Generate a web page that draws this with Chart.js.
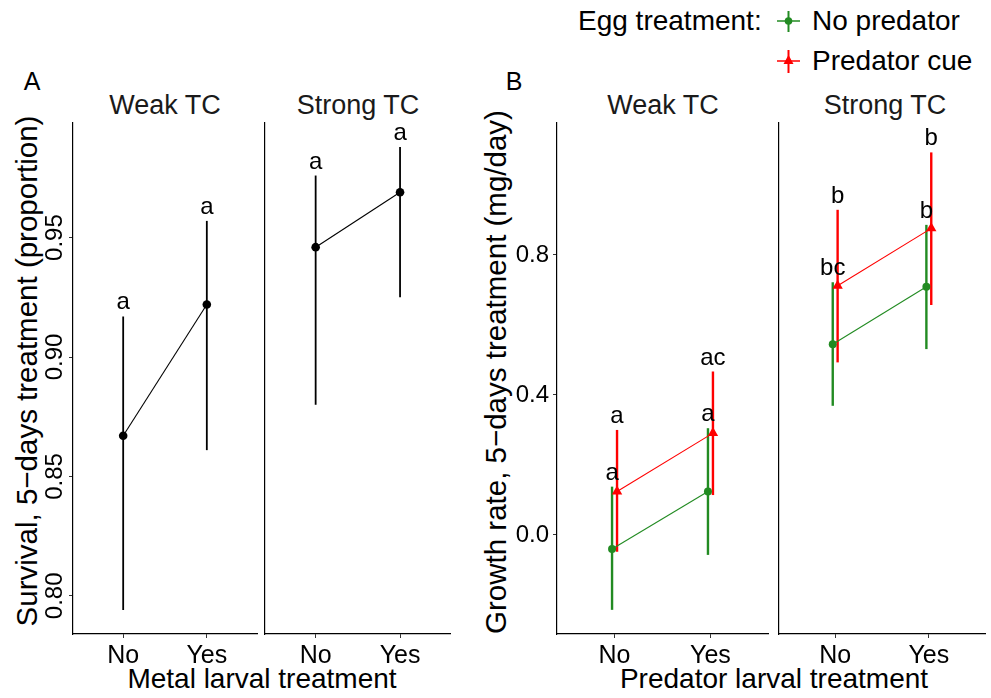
<!DOCTYPE html>
<html>
<head>
<meta charset="utf-8">
<script src="https://cdn.jsdelivr.net/npm/chart.js@4.4.0/dist/chart.umd.min.js"></script>
<style>
  body { margin: 0; background: #fff; width: 991px; height: 698px; position: relative; overflow: hidden;
         font-family: "Liberation Sans", Arial, sans-serif; color: #000; }
  .panel { position: absolute; }
  .txt { position: absolute; white-space: nowrap; line-height: 1; transform: translate(-50%, -50%); }
  .lt { position: absolute; white-space: nowrap; line-height: 1; transform: translateY(-50%); font-size: 28px; }
  .rot { position: absolute; white-space: nowrap; line-height: 1; transform: translate(-50%, -50%) rotate(-90deg); font-size: 29.5px; }
  .strip { color: #1a1a1a; font-size: 27px; }
</style>
</head>
<body>
<!-- panel letters -->
<div class="txt" style="left:32px;top:81px;font-size:25px">A</div>
<div class="txt" style="left:514px;top:81px;font-size:25px">B</div>

<!-- facet titles -->
<div class="txt strip" id="stripAWeak" style="left:165px;top:105px"></div>
<div class="txt strip" id="stripAStrong" style="left:358px;top:105px"></div>
<div class="txt strip" id="stripBWeak" style="left:663px;top:105px"></div>
<div class="txt strip" id="stripBStrong" style="left:885px;top:105px"></div>

<!-- axis titles -->
<div class="rot" style="left:27px;top:371px">Survival, 5−days treatment (proportion)</div>
<div class="rot" style="left:496px;top:372px">Growth rate, 5−days treatment (mg/day)</div>
<div class="txt" style="left:262px;top:679px;font-size:28px">Metal larval treatment</div>
<div class="txt" style="left:774px;top:679px;font-size:28px">Predator larval treatment</div>

<!-- legend -->
<div class="lt" style="left:578px;top:21px">Egg treatment:</div>
<svg style="position:absolute;left:776px;top:8px" width="26" height="70">
  <line x1="1" y1="13" x2="24" y2="13" stroke="#228B22" stroke-width="1.5"/>
  <line x1="12.5" y1="3" x2="12.5" y2="24" stroke="#228B22" stroke-width="2"/>
  <circle cx="12.5" cy="13" r="3.8" fill="#228B22"/>
  <line x1="1" y1="53" x2="24" y2="53" stroke="#FF0000" stroke-width="1.5"/>
  <line x1="12.5" y1="42" x2="12.5" y2="65" stroke="#FF0000" stroke-width="2"/>
  <polygon points="12.5,47 17.5,56 7.5,56" fill="#FF0000"/>
</svg>
<div class="lt" id="legNoPred" style="left:812px;top:21px"></div>
<div class="lt" id="legCue" style="left:812px;top:61px"></div>

<div class="panel" style="left:0px;top:103px"><canvas id="aWeak" width="262" height="567"></canvas></div>
<div class="panel" style="left:255px;top:103px"><canvas id="aStrong" width="200" height="567"></canvas></div>
<div class="panel" style="left:480px;top:103px"><canvas id="bWeak" width="294" height="567"></canvas></div>
<div class="panel" style="left:769px;top:103px"><canvas id="bStrong" width="222" height="567"></canvas></div>

<script>
// categories and facets
const xLabels = ["No", "Yes"];
const facetNames = ["Weak TC", "Strong TC"];
const eggLabels = ["No predator", "Predator cue"];

// A: survival (proportion), mean with CI and letters
const survWeak = [0.867, 0.922];
const survWeakLo = [0.794, 0.861];
const survWeakHi = [0.917, 0.957];
const survWeakLetters = ["a", "a"];
const survStrong = [0.946, 0.969];
const survStrongLo = [0.880, 0.925];
const survStrongHi = [0.976, 0.988];
const survStrongLetters = ["a", "a"];
const survTicks = [0.80, 0.85, 0.90, 0.95];

// B: growth rate (mg/day)
const growWeakNoPred = [-0.040, 0.124];
const growWeakNoPredLo = [-0.214, -0.057];
const growWeakNoPredHi = [0.138, 0.305];
const growWeakNoPredLetters = ["a", "a"];
const growWeakCue = [0.124, 0.291];
const growWeakCueLo = [-0.048, 0.114];
const growWeakCueHi = [0.300, 0.467];
const growWeakCueLetters = ["a", "ac"];
const growStrongNoPred = [0.545, 0.709];
const growStrongNoPredLo = [0.369, 0.531];
const growStrongNoPredHi = [0.722, 0.886];
const growStrongNoPredLetters = ["bc", "b"];
const growStrongCue = [0.712, 0.876];
const growStrongCueLo = [0.493, 0.657];
const growStrongCueHi = [0.929, 1.093];
const growStrongCueLetters = ["b", "b"];
const growTicks = [0.0, 0.4, 0.8];

// texts
document.getElementById("stripAWeak").textContent = facetNames[0];
document.getElementById("stripAStrong").textContent = facetNames[1];
document.getElementById("stripBWeak").textContent = facetNames[0];
document.getElementById("stripBStrong").textContent = facetNames[1];
document.getElementById("legNoPred").textContent = eggLabels[0];
document.getElementById("legCue").textContent = eggLabels[1];

Chart.defaults.font.family = '"Liberation Sans", Arial, sans-serif';
Chart.defaults.color = "#000";

const GREEN = "#228B22";
const RED = "#FF0000";
const DODGE = 0.026;

// error bars under the points, letters above the bars
const errorBars = {
  id: "errorBars",
  beforeDatasetsDraw(chart) {
    const ctx = chart.ctx;
    const xs = chart.scales.x;
    const ys = chart.scales.y;
    chart.data.datasets.forEach((ds) => {
      ds.data.forEach((p, i) => {
        const x = xs.getPixelForValue(p.x);
        ctx.save();
        ctx.strokeStyle = ds.borderColor;
        ctx.lineWidth = ds.errWidth;
        ctx.beginPath();
        ctx.moveTo(x, ys.getPixelForValue(ds.lo[i]));
        ctx.lineTo(x, ys.getPixelForValue(ds.hi[i]));
        ctx.stroke();
        ctx.restore();
      });
    });
  },
  afterDatasetsDraw(chart) {
    const ctx = chart.ctx;
    const xs = chart.scales.x;
    const ys = chart.scales.y;
    ctx.save();
    ctx.font = '24px "Liberation Sans", Arial, sans-serif';
    ctx.fillStyle = "#000";
    ctx.textAlign = "center";
    ctx.textBaseline = "alphabetic";
    chart.data.datasets.forEach((ds) => {
      ds.data.forEach((p, i) => {
        ctx.fillText(ds.letters[i], xs.getPixelForValue(p.x), ys.getPixelForValue(ds.hi[i]) - 7);
      });
    });
    ctx.restore();
  },
};

function makeSeries(mean, lo, hi, letters, color, shape, size, dodge, errWidth) {
  return {
    data: mean.map((v, i) => ({ x: i + 1 + dodge, y: v })),
    lo: lo,
    hi: hi,
    letters: letters,
    borderColor: color,
    backgroundColor: color,
    borderWidth: 1.1,
    pointStyle: shape,
    pointRadius: size,
    pointHoverRadius: size,
    pointBorderWidth: 0,
    errWidth: errWidth,
  };
}

function makePanel(id, datasets, yRange, yTicks, yDigits, yMode, yWidth, padRight) {
  const yAxis = {
    type: "linear",
    min: yRange[0],
    max: yRange[1],
    border: { display: true, color: "#000", width: 1.2 },
    afterFit: (s) => {
      s.width = yWidth;
      s.paddingTop = 0;
      s.paddingBottom = 0;
    },
  };
  if (yMode === "none") {
    yAxis.ticks = { display: false };
    yAxis.grid = { display: false };
  } else {
    yAxis.afterBuildTicks = (s) => {
      s.ticks = yTicks.map((v) => ({ value: v }));
    };
    yAxis.grid = { display: true, drawOnChartArea: false, tickLength: 4, color: "#333" };
    yAxis.ticks = {
      callback: (v) => Number(v).toFixed(yDigits),
      font: { size: 24 },
      color: "#000",
      autoSkip: false,
    };
    if (yMode === "rotated") {
      yAxis.ticks.minRotation = 90;
      yAxis.ticks.maxRotation = 90;
      yAxis.ticks.crossAlign = "center";
      yAxis.ticks.padding = -10;
    } else {
      yAxis.ticks.padding = 4;
    }
  }

  return new Chart(document.getElementById(id), {
    type: "line",
    data: { datasets: datasets },
    options: {
      responsive: false,
      animation: false,
      events: [],
      layout: { padding: { top: 20, right: padRight, left: 0, bottom: 0 } },
      plugins: { legend: { display: false }, tooltip: { enabled: false } },
      scales: {
        x: {
          type: "linear",
          min: 0.4,
          max: 2.6,
          afterBuildTicks: (s) => {
            s.ticks = xLabels.map((_, i) => ({ value: i + 1 }));
          },
          ticks: {
            callback: (v) => xLabels[Math.round(v) - 1],
            autoSkip: false,
            maxRotation: 0,
            padding: 3,
            font: { size: 25 },
            color: "#000",
          },
          grid: { display: true, drawOnChartArea: false, tickLength: 4, color: "#333" },
          border: { display: true, color: "#000", width: 1.2 },
          afterFit: (s) => {
            s.height = 36;
            s.paddingLeft = 0;
            s.paddingRight = 0;
          },
        },
        y: yAxis,
      },
    },
    plugins: [errorBars],
  });
}

const survRange = [0.784, 0.998];
const growRange = [-0.283, 1.177];

makePanel("aWeak",
  [makeSeries(survWeak, survWeakLo, survWeakHi, survWeakLetters, "#000", "circle", 4.3, 0, 1.8)],
  survRange, survTicks, 2, "rotated", 73, 5);
makePanel("aStrong",
  [makeSeries(survStrong, survStrongLo, survStrongHi, survStrongLetters, "#000", "circle", 4.3, 0, 1.8)],
  survRange, survTicks, 2, "none", 10, 4);
makePanel("bWeak",
  [makeSeries(growWeakNoPred, growWeakNoPredLo, growWeakNoPredHi, growWeakNoPredLetters, GREEN, "circle", 4, -DODGE, 2.4),
   makeSeries(growWeakCue, growWeakCueLo, growWeakCueHi, growWeakCueLetters, RED, "triangle", 6, DODGE, 2.4)],
  growRange, growTicks, 1, "plain", 77, 5);
makePanel("bStrong",
  [makeSeries(growStrongNoPred, growStrongNoPredLo, growStrongNoPredHi, growStrongNoPredLetters, GREEN, "circle", 4, -DODGE, 2.4),
   makeSeries(growStrongCue, growStrongCueLo, growStrongCueHi, growStrongCueLetters, RED, "triangle", 6, DODGE, 2.4)],
  growRange, growTicks, 1, "none", 10, 0);
</script>
</body>
</html>
